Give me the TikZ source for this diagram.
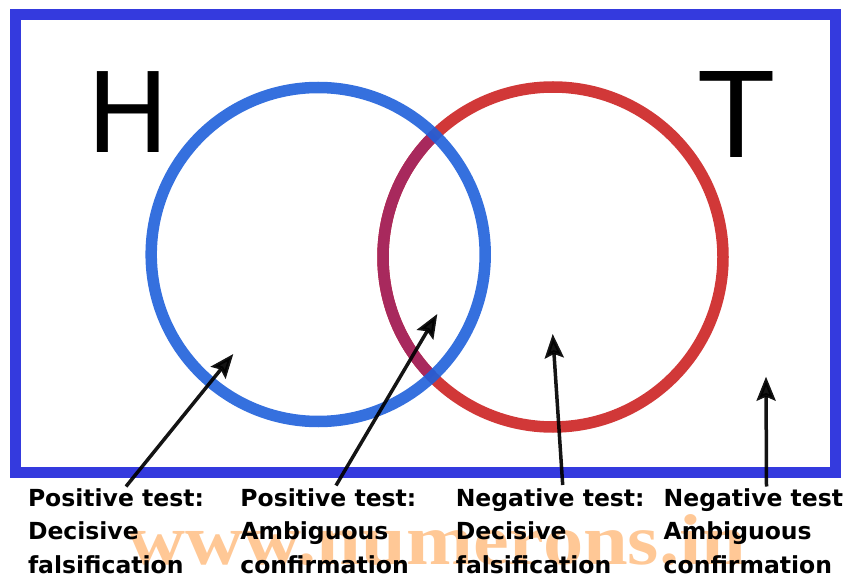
\documentclass[tikz,border=0pt]{standalone}
\usepackage{graphicx}
\usepackage{fontspec}
\setmainfont{DejaVu Sans}
\newfontfamily\markfont{Liberation Serif}
\usetikzlibrary{arrows.meta}

\definecolor{framecol}{RGB}{52,58,222}
\definecolor{hcol}{RGB}{31,96,218}
\definecolor{tcol}{RGB}{209,56,56}
\definecolor{overlapcol}{RGB}{168,41,93}
\definecolor{markcol}{RGB}{255,200,150}

\tikzset{
  setline/.style={line width=11.5pt},
  bigletter/.style={inner sep=0pt, anchor=base},
  lab/.style={inner sep=0pt, anchor=base west,
    font=\fontsize{23.5}{33.5}\selectfont\bfseries},
  pointer/.style={-{Stealth[length=24pt,width=19pt,inset=4pt]},
    line width=3.5pt, draw=black, opacity=0.92},
}

\newcommand\threelines[3]{\begin{tabular}[t]{@{}l@{}}#1\\#2\\#3\end{tabular}}

\begin{document}
\begin{tikzpicture}[x=1pt,y=-1pt]
  \useasboundingbox (0,0) rectangle (846,577);

  % outer frame
  \draw[framecol, line width=11pt] (15.3,14.5) rectangle (835,472.5);

  % the two sets
  \coordinate (hc) at (318.2,254.5);
  \coordinate (tc) at (553,257);
  \draw[tcol, setline] (tc) circle[radius=170pt];
  \begin{scope}
    \clip (hc) circle[radius=167pt];
    \draw[overlapcol, setline] (tc) circle[radius=170pt];
  \end{scope}
  \draw[hcol, setline, draw opacity=0.9] (hc) circle[radius=167pt];

  % set names
  \node[bigletter, font=\fontsize{111}{111}\selectfont] (hname) at (127.9,152.7) {H};
  \node[bigletter, font=\fontsize{118}{118}\selectfont] (tname) at (736.3,158) {T};

  % watermark
  \node[anchor=base west, inner sep=0pt, text=markcol,
        font=\markfont\bfseries\fontsize{72}{72}\selectfont] (mark) at (127,564)
        {\scalebox{1.116}[1]{www.numerons.in}};

  % captions
  \node[lab] (l1) at (27.8,506) {\threelines{Positive test:}{Decisive}{falsification}};
  \node[lab] (l2) at (240.2,506) {\threelines{Positive test:}{Ambiguous}{confirmation}};
  \node[lab] (l3) at (455.6,506) {\threelines{Negative test:}{Decisive}{falsification}};
  \node[lab] (l4) at (663.5,506) {\threelines{Negative test}{Ambiguous}{confirmation}};

  % pointers from captions into the regions
  \coordinate (s1) at (126,486.5);   \coordinate (e1) at (233.3,354);
  \coordinate (s2) at (336,485.5);   \coordinate (e2) at (437.3,314);
  \coordinate (s3) at (562.7,485);   \coordinate (e3) at (552.7,334);
  \coordinate (s4) at (766.5,486.5); \coordinate (e4) at (766,376.7);
  \draw[pointer] (s1) -- (e1);
  \draw[pointer] (s2) -- (e2);
  \draw[pointer] (s3) -- (e3);
  \draw[pointer] (s4) -- (e4);
\end{tikzpicture}
\end{document}
